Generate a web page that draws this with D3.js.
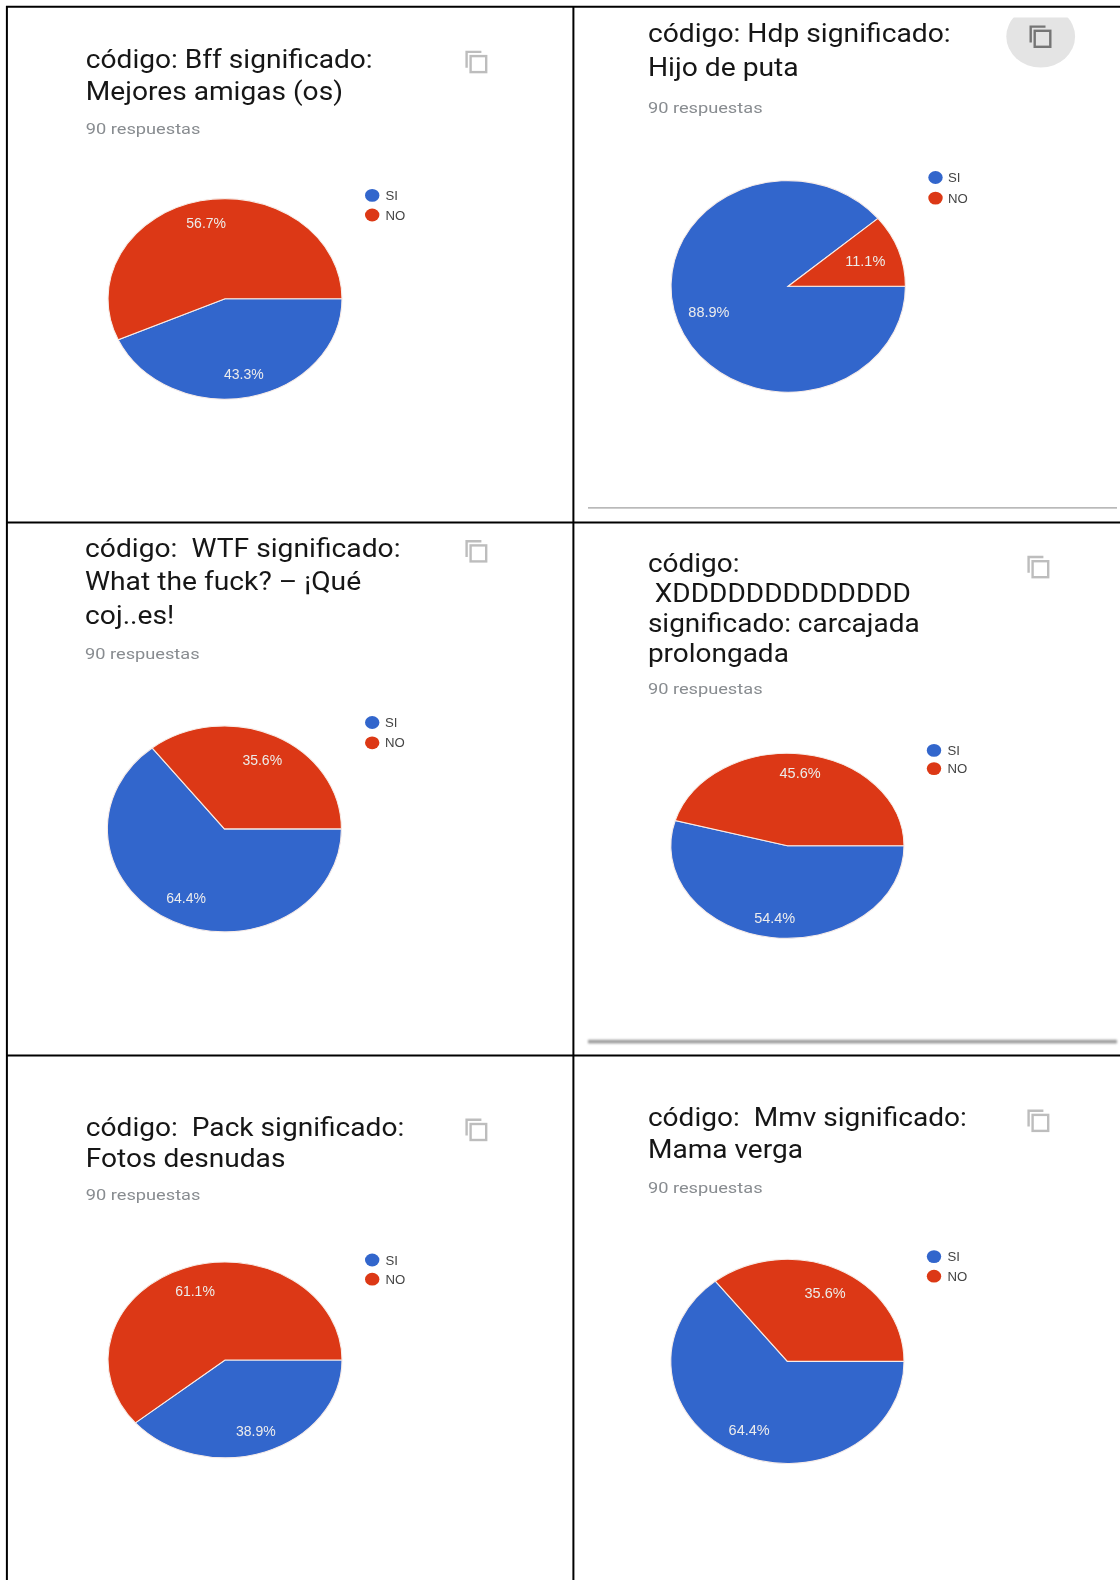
<!DOCTYPE html>
<html><head><meta charset="utf-8">
<script src="https://cdnjs.cloudflare.com/ajax/libs/d3/7.8.5/d3.min.js"></script>
<style>html,body{margin:0;padding:0;background:#fff}svg{display:block}text{white-space:pre}</style>
</head><body><div id="c"></div>
<script>
const categories = ["SI", "NO"];
const siValues = [43.3, 88.9, 64.4, 54.4, 38.9, 64.4];
const noValues = [56.7, 11.1, 35.6, 45.6, 61.1, 35.6];
const titles = [
  ["código: Bff significado:", "Mejores amigas (os)"],
  ["código: Hdp significado:", "Hijo de puta"],
  ["código:  WTF significado:", "What the fuck? – ¡Qué", "coj..es!"],
  ["código:", " XDDDDDDDDDDDDD", "significado: carcajada", "prolongada"],
  ["código:  Pack significado:", "Fotos desnudas"],
  ["código:  Mmv significado:", "Mama verga"]
];
const subtitle = "90 respuestas";

// layout only
const colours = ["#3366cc", "#dc3912"];
const panels = [
 {cx:225,cy:298.8,rx:117,ry:100.3,lr:[.77,.77],fs:14,tx:85.8,base:[67.6,99.9],sub:133.5,ref:0,refW:287,lx:372.2,ly:[195.4,215],tlx:385.5,ix:465.4,iy:50.7},
 {cx:788.2,cy:286.3,rx:117.2,ry:105.8,lr:[.72,.70],fs:14.5,tx:647.9,base:[42.2,76.2],sub:112.6,ref:0,refW:303,lx:935.5,ly:[177.5,198.1],tlx:948,ix:1029.5,iy:25.4},
 {cx:224.4,cy:828.9,rx:117,ry:103,lr:[.75,.74],fs:14,tx:85,base:[557.2,590.2,624.2],sub:658.8,ref:0,refW:315.7,lx:372.2,ly:[722.5,742.8],tlx:385,ix:465.4,iy:540},
 {cx:787.4,cy:845.8,rx:116.6,ry:92.5,lr:[.79,.79],fs:14.5,tx:647.9,base:[572.4,602,632.4,662],sub:693.9,ref:2,refW:272,lx:934,ly:[750.4,768.6],tlx:947.4,ix:1027.4,iy:555.8},
 {cx:225,cy:1360,rx:117,ry:97.9,lr:[.77,.75],fs:14,tx:85.8,base:[1135.6,1166.8],sub:1199.8,ref:0,refW:318.6,lx:372.2,ly:[1260,1279.2],tlx:385.5,ix:465.4,iy:1118.6},
 {cx:787.4,cy:1361.4,rx:116.6,ry:102.1,lr:[.75,.74],fs:14.5,tx:647.9,base:[1125.7,1158],sub:1193,ref:0,refW:319,lx:934,ly:[1256.6,1276.2],tlx:947.4,ix:1027.4,iy:1109.5}
];

const svg = d3.select("#c").append("svg").attr("width",1120).attr("height",1580);
svg.append("rect").attr("width",1120).attr("height",1580).attr("fill","#fff");
const defs = svg.append("defs");
const soft = defs.append("filter").attr("id","soft").attr("x","-5%").attr("y","-200%").attr("width","110%").attr("height","500%");
soft.append("feGaussianBlur").attr("stdDeviation",0.8);
const fine = defs.append("filter").attr("id","fine").attr("filterUnits","userSpaceOnUse").attr("x",0).attr("y",0).attr("width",1120).attr("height",1580);
fine.append("feGaussianBlur").attr("stdDeviation",0.35);
defs.append("clipPath").attr("id","hdpClip").append("rect").attr("x",980).attr("y",17.5).attr("width",120).attr("height",70);

const content = svg.append("g").attr("filter","url(#fine)");

const pie = d3.pie().sort(null).value(d=>d.value).startAngle(Math.PI/2).endAngle(Math.PI*2.5);
const arc = d3.arc().innerRadius(0).outerRadius(1);

content.append("ellipse").attr("clip-path","url(#hdpClip)")
  .attr("cx",1040.7).attr("cy",36.5).attr("rx",34.4).attr("ry",31).attr("fill","#e4e4e4");

// greyed dividers at the foot of the right-hand cards
content.append("rect").attr("x",588).attr("width",529).attr("y",507).attr("height",1.7).attr("fill","#b9b9b9");
content.append("rect").attr("x",588).attr("width",529).attr("y",1039.8).attr("height",3.6)
  .attr("fill","#9c9c9c").attr("filter","url(#soft)");

panels.forEach((p,i)=>{
  const g = content.append("g").attr("class","panel");
  const data = categories.map((c,k)=>({category:c,value:k===0?siValues[i]:noValues[i]}));
  const x = d3.scaleLinear().domain([-1,1]).range([p.cx-p.rx,p.cx+p.rx]);
  const y = d3.scaleLinear().domain([-1,1]).range([p.cy-p.ry,p.cy+p.ry]);

  const pg = g.append("g").attr("transform",`translate(${p.cx},${p.cy}) scale(${p.rx},${p.ry})`);
  const arcs = pie(data);
  pg.selectAll("path").data(arcs).join("path")
    .attr("d",arc).attr("fill",(d,k)=>colours[k])
    .attr("stroke","#f7ece8").attr("stroke-width",1.1).attr("vector-effect","non-scaling-stroke");

  g.selectAll("text.pct").data(arcs).join("text").attr("class","pct")
    .attr("x",(d,k)=>x(d3.arc().innerRadius(p.lr[k]).outerRadius(p.lr[k]).centroid(d)[0]))
    .attr("y",(d,k)=>y(d3.arc().innerRadius(p.lr[k]).outerRadius(p.lr[k]).centroid(d)[1])+4.8)
    .attr("text-anchor","middle").attr("fill","#ececec")
    .attr("font-family","'Liberation Sans',Arial,sans-serif").attr("font-size",p.fs)
    .text(d=>d.data.value.toFixed(1)+"%");

  // legend
  const lg = g.append("g");
  lg.selectAll("ellipse").data(categories).join("ellipse")
    .attr("cx",p.lx).attr("cy",(d,k)=>p.ly[k]).attr("rx",7.2).attr("ry",6.4).attr("fill",(d,k)=>colours[k]);
  lg.selectAll("text").data(categories).join("text")
    .attr("x",p.tlx).attr("y",(d,k)=>p.ly[k]+4.6)
    .attr("fill","#444").attr("font-family","'Liberation Sans',Arial,sans-serif").attr("font-size",13.2)
    .text(d=>d);

  // title (fitted horizontally)
  const tg = g.append("g").attr("class","title");
  const tt = tg.selectAll("text").data(titles[i]).join("text")
    .attr("font-family","Roboto,sans-serif").attr("font-size",25).attr("fill","#161616")
    .text(d=>d);
  const w = tt.nodes()[p.ref].getComputedTextLength();
  const k = p.refW/w;
  tt.attr("transform",(d,j)=>`translate(${p.tx},${p.base[j]}) scale(${k},1)`);

  const st = g.append("text").attr("font-family","Roboto,sans-serif").attr("font-size",15.5)
    .attr("fill","#888c90").text(subtitle);
  const sw = st.node().getComputedTextLength();
  st.attr("transform",`translate(${p.tx},${p.sub}) scale(${114.7/sw},1)`);

  // copy icon
  const ic = g.append("g").attr("transform",`translate(${p.ix},${p.iy})`)
    .attr("fill","none").attr("stroke",i===1?"#757575":"#bdbdbd").attr("stroke-width",2.4);
  ic.append("path").attr("d","M1.2,17 V1.2 H16");
  ic.append("rect").attr("x",5.2).attr("y",5.4).attr("width",15.6).attr("height",16);
});

// black table rules
const rules = [
 [6,6.8,1120,6.8],[6,522.4,1120,522.4],[6,1055.6,1120,1055.6],
 [6.9,6,6.9,1580],[573.4,6,573.4,1580]
];
svg.append("g").selectAll("line").data(rules).join("line")
 .attr("x1",d=>d[0]).attr("y1",d=>d[1]).attr("x2",d=>d[2]).attr("y2",d=>d[3])
 .attr("stroke","#000").attr("stroke-width",2);
</script></body></html>
